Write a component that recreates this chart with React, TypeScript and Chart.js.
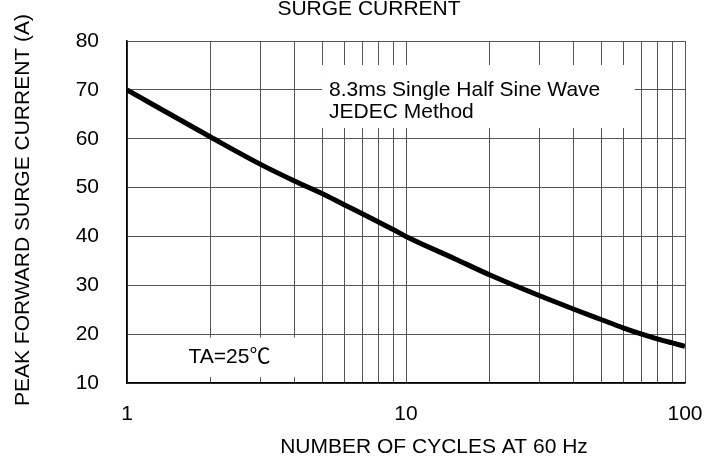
import React, { useEffect, useRef } from "react";
import { Chart, registerables } from "chart.js";

Chart.register(...registerables);

// ---- data ----
const cycles = [1, 2, 3, 4, 5, 6, 7, 8, 9, 10, 15, 20, 30, 40, 50, 60, 70, 80, 90, 100];
const surgeCurrent = [70, 60.3, 54.8, 51.3, 48.8, 46.5, 44.6, 42.9, 41.4, 40, 35.4, 32.1, 27.9, 25.1, 23.0, 21.3, 20.0, 19.0, 18.2, 17.5];
const xGridValues = [1, 2, 3, 4, 5, 6, 7, 8, 9, 10, 20, 30, 40, 50, 60, 70, 80, 90, 100];
const xLabelValues = [1, 10, 100];
const yMin = 10;
const yMax = 80;
const yStep = 10;

const chartTitle = "SURGE CURRENT";
const xTitle = "NUMBER OF CYCLES AT 60 Hz";
const yTitle = "PEAK FORWARD SURGE CURRENT (A)";
const noteLines = ["8.3ms Single Half Sine Wave", "JEDEC Method"];
const tempNote = "TA=25\u2103";

const FONT = "'Liberation Sans', Arial, Helvetica, sans-serif";
const FONT_CJK = "'Liberation Sans', Arial, 'Noto Sans CJK SC', sans-serif";
const FS = 21;

const overlayPlugin = {
  id: "overlay",
  beforeDatasetsDraw(chart: any) {
    const { ctx, chartArea } = chart;
    const x = chart.scales.x;
    const y = chart.scales.y;
    ctx.save();
    ctx.fillStyle = "#ffffff";
    // note box
    const n0 = x.getPixelForValue(5.0);
    const n1 = x.getPixelForValue(66);
    const nt = y.getPixelForValue(75.1);
    const nb = y.getPixelForValue(62.2);
    ctx.fillRect(n0, nt, n1 - n0, nb - nt);
    // temperature box
    const t0 = chartArea.left + 1.5;
    const t1 = x.getPixelForValue(4.7);
    const tt = y.getPixelForValue(19.3);
    const tb = y.getPixelForValue(11.2);
    ctx.fillRect(t0, tt, t1 - t0, tb - tt);

    ctx.fillStyle = "#000";
    ctx.font = `${FS}px ${FONT}`;
    ctx.textBaseline = "middle";
    ctx.textAlign = "left";
    const lx = x.getPixelForValue(5.3);
    const ly = y.getPixelForValue(70);
    ctx.fillText(noteLines[0], lx, ly);
    ctx.fillText(noteLines[1], lx, ly + 22);

    ctx.textAlign = "center";
    ctx.font = `${FS}px ${FONT_CJK}`;
    ctx.fillText(tempNote, x.getPixelForValue(2.33), (tt + tb) / 2);
    ctx.restore();
  },
  afterDraw(chart: any) {
    const { ctx } = chart;
    ctx.save();
    ctx.fillStyle = "#000";
    ctx.font = `${FS}px ${FONT}`;
    ctx.textBaseline = "middle";
    ctx.textAlign = "center";
    ctx.fillText(chartTitle, 369, 9);
    ctx.fillText(xTitle, 434, 447);
    ctx.translate(23, 210);
    ctx.rotate(-Math.PI / 2);
    ctx.fillText(yTitle, 0, 0);
    ctx.restore();
  },
};

export default function App() {
  const ref = useRef<HTMLCanvasElement | null>(null);
  useEffect(() => {
    if (!ref.current) return;
    const chart = new Chart(ref.current, {
      type: "line",
      data: {
        datasets: [
          {
            data: cycles.map((c, i) => ({ x: c, y: surgeCurrent[i] })),
            borderColor: "#000",
            borderWidth: 5,
            pointRadius: 0,
            fill: false,
            cubicInterpolationMode: "monotone",
            borderCapStyle: "butt",
          },
        ],
      },
      options: {
        responsive: false,
        animation: false,
        layout: { padding: { top: 41, right: 29, bottom: 0, left: 0 } },
        plugins: { legend: { display: false }, tooltip: { enabled: false }, title: { display: false } },
        scales: {
          x: {
            type: "logarithmic",
            min: 1,
            max: 100,
            afterBuildTicks: (scale: any) => {
              scale.ticks = xGridValues.map((v) => ({ value: v }));
            },
            afterFit: (scale: any) => {
              scale.height = 83;
              scale.paddingLeft = 0;
              scale.paddingRight = 0;
            },
            ticks: {
              autoSkip: false,
              maxRotation: 0,
              padding: 19,
              color: "#000",
              font: { family: FONT, size: FS },
              callback: (v: any) => (xLabelValues.includes(Number(v)) ? String(v) : ""),
            },
            grid: { color: "#555", lineWidth: 1, drawTicks: false },
            border: { color: "#000", width: 1.5 },
          },
          y: {
            min: yMin,
            max: yMax,
            ticks: {
              stepSize: yStep,
              padding: 28,
              color: "#000",
              font: { family: FONT, size: FS },
            },
            afterFit: (scale: any) => {
              scale.width = 127;
              scale.paddingTop = 0;
              scale.paddingBottom = 0;
            },
            grid: { color: "#555", lineWidth: 1, drawTicks: false },
            border: { color: "#000", width: 1.5 },
          },
        },
      },
      plugins: [overlayPlugin],
    } as any);
    return () => chart.destroy();
  }, []);
  return (
    <div style={{ position: "fixed", left: 0, top: 0, width: 714, height: 466, background: "#fff" }}>
      <canvas ref={ref} width={714} height={466} />
    </div>
  );
}
